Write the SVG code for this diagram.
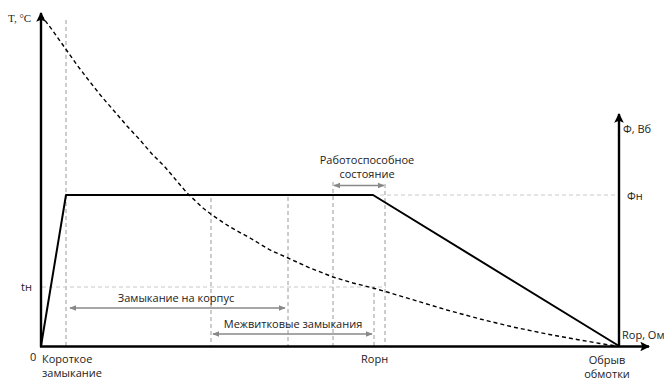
<svg xmlns="http://www.w3.org/2000/svg" width="664" height="382" viewBox="0 0 664 382">
<defs>
<style>
.t{font-family:"Open Sans","Liberation Sans",sans-serif;font-size:11px;fill:#222}
.axis{stroke:#000;stroke-width:2.4;fill:none}
.main{stroke:#000;stroke-width:2;fill:none;stroke-linejoin:round}
.vd{stroke:#9a9a9a;stroke-width:1;stroke-dasharray:4 3;fill:none}
.hd{stroke:#c8c8c8;stroke-width:1;stroke-dasharray:4 3;fill:none}
.curve{stroke:#000;stroke-width:1.4;stroke-dasharray:4 3;fill:none}
.rng{stroke:#888;stroke-width:1.4;fill:none;marker-start:url(#ga);marker-end:url(#ga)}
</style>
<marker id="ax" viewBox="0 0 10 10" refX="9" refY="5" markerWidth="4" markerHeight="4" orient="auto" markerUnits="strokeWidth">
<path d="M0,0 L10,5 L0,10 L2,5 z" fill="#000"/>
</marker>
<marker id="ga" viewBox="0 0 10 10" refX="9" refY="5" markerWidth="5" markerHeight="5" orient="auto-start-reverse" markerUnits="strokeWidth">
<path d="M0,1 L10,5 L0,9 z" fill="#888"/>
</marker>
</defs>
<g id="guides">
<line class="vd" x1="66" y1="20" x2="66" y2="346"/>
<line class="vd" x1="211" y1="198" x2="211" y2="346"/>
<line class="vd" x1="288" y1="197" x2="288" y2="346"/>
<line class="vd" x1="333" y1="182" x2="333" y2="346"/>
<line class="vd" x1="374" y1="286" x2="374" y2="346"/>
<line class="vd" x1="385" y1="184" x2="385" y2="346"/>
<line class="hd" x1="42" y1="287" x2="386" y2="287"/>
<line class="hd" x1="380" y1="195" x2="618" y2="195"/>
</g>
<g id="axes">
<line class="axis" x1="41" y1="347" x2="41" y2="13" marker-end="url(#ax)"/>
<line class="axis" x1="619" y1="347" x2="619" y2="114" marker-end="url(#ax)"/>
<line class="axis" x1="40" y1="346.5" x2="649" y2="346.5" marker-end="url(#ax)"/>
</g>
<g id="connectors">
<polyline class="main" points="41,346 66,195 373,195 619,346"/>
<polyline class="curve" points="41,15 53,31 65,48 77,65 90,82 102,97 115,112 127,126 140,140 152,154 165,167 176,180 187,193 203,208 212,215 230,227 250,238 270,250 288,258 310,268 333,277 353,283 373,288 387,292 417,301 447,310 480,319 513,327 547,334 580,340 600,343.5 617,346"/>
<line class="rng" x1="70" y1="308" x2="285" y2="308"/>
<line class="rng" x1="213" y1="334" x2="372" y2="334"/>
<line class="rng" x1="334" y1="185.5" x2="384" y2="185.5"/>
</g>
<g id="labels">
<text x="8" y="22" style="font-family:'Liberation Serif',serif;font-size:11px;fill:#222">T, °C</text>
<text class="t" x="30" y="361">0</text>
<text class="t" x="21" y="291">tн</text>
<text class="t" x="42" y="363">Короткое</text>
<text class="t" x="42" y="377">замыкание</text>
<text class="t" x="361" y="363">Rорн</text>
<text class="t" x="607" y="364" text-anchor="middle">Обрыв</text>
<text class="t" x="607" y="378" text-anchor="middle">обмотки</text>
<text class="t" x="622" y="339">Rop, Ом</text>
<text class="t" x="627" y="200">Фн</text>
<text class="t" x="623" y="133">Ф, Вб</text>
<text class="t" x="367" y="164" text-anchor="middle">Работоспособное</text>
<text class="t" x="367" y="178" text-anchor="middle">состояние</text>
<text class="t" x="176" y="302" text-anchor="middle">Замыкание на корпус</text>
<text class="t" x="293" y="328" text-anchor="middle">Межвитковые замыкания</text>
</g>
</svg>
